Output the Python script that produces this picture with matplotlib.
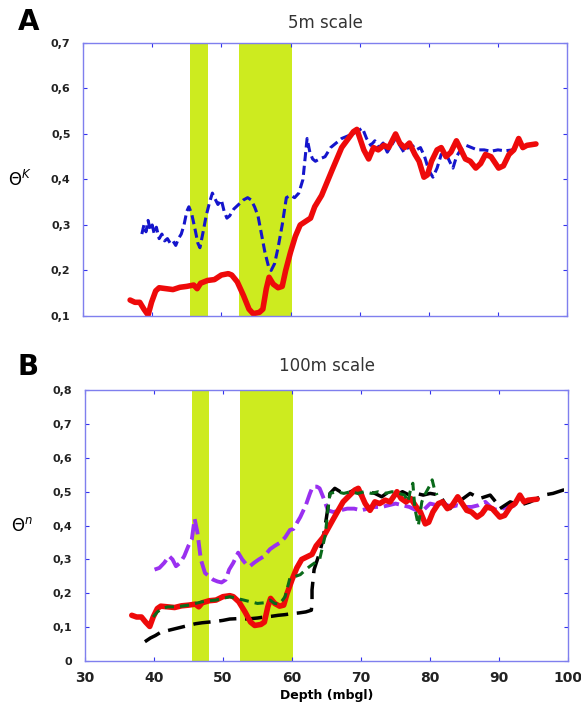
import matplotlib.pyplot as plt
import numpy as np

# red solid curve (same in both panels)
red_depth = [36.8, 37.5, 38.2, 38.8, 39.4, 39.9, 40.5, 41.0, 42, 43, 44, 45, 46, 46.5, 47, 48, 49, 50,
             51, 51.5, 52.3, 53.2, 54, 54.6, 55.5, 56.0, 56.5, 56.9, 57.5, 58.2, 58.8, 59.3, 60.0, 60.7,
             61.4, 62.9, 63.5, 64.5, 66, 67.4, 69.1, 69.6, 70.6, 71.3, 72, 72.7, 73.5, 74.2, 75.2, 75.8,
             76.5, 77.2, 78, 78.6, 79.3, 79.8, 80.4, 81.2, 81.8, 82.5, 83.2, 84, 85.3, 86, 86.8, 87.5,
             88.2, 89, 90.1, 90.8, 91.6, 92.3, 93, 93.6, 94.2, 95.5]
red_theta = [0.135, 0.13, 0.13, 0.115, 0.102, 0.13, 0.155, 0.162, 0.16, 0.158, 0.163, 0.165, 0.168, 0.16,
             0.172, 0.178, 0.18, 0.19, 0.193, 0.19, 0.175, 0.145, 0.115, 0.105, 0.108, 0.115, 0.16, 0.185,
             0.17, 0.162, 0.165, 0.2, 0.24, 0.275, 0.30, 0.315, 0.34, 0.365, 0.42, 0.47, 0.505, 0.51,
             0.465, 0.445, 0.47, 0.465, 0.475, 0.47, 0.50, 0.48, 0.47, 0.48, 0.455, 0.44, 0.405, 0.41,
             0.44, 0.465, 0.47, 0.45, 0.46, 0.485, 0.445, 0.44, 0.425, 0.435, 0.455, 0.45, 0.425, 0.43,
             0.455, 0.465, 0.49, 0.47, 0.475, 0.478]

# blue dashed curve (5m scale)
blue_depth = [38.5, 38.8, 39.1, 39.4, 39.7, 40.0, 40.3, 40.6, 41.0, 41.4, 41.8, 42.2, 42.6, 43.0, 43.4,
              43.8, 44.2, 44.6, 45.0, 45.3, 45.7, 46.2, 46.6, 46.9, 47.3, 47.8, 48.3, 48.7, 49.0, 49.5,
              50.0, 50.4, 50.8, 51.2, 51.8, 52.5, 53.2, 53.8, 54.3, 54.8, 55.3, 55.8, 56.3, 56.8, 57.2,
              57.7, 58.2, 58.8, 59.4, 60.0, 60.6, 61.2, 61.8, 62.4, 62.8, 63.2, 63.6, 64.2, 65.0, 65.8,
              66.6, 67.4, 68.2, 69.0, 69.6, 70.4, 71.0, 71.6, 72.2, 72.8, 73.4, 74.0, 74.6, 75.2, 75.8,
              76.4, 77.0, 77.6, 78.2, 78.8, 79.4, 80.0, 80.6, 81.2, 81.8, 82.4, 83.0, 83.5, 84.0, 84.6,
              85.4, 86.2, 87.0, 88.0, 89.0, 90.0, 91.0, 92.2]
blue_theta = [0.28, 0.30, 0.285, 0.31, 0.29, 0.30, 0.28, 0.295, 0.27, 0.28, 0.265, 0.27, 0.26, 0.265,
              0.255, 0.27, 0.28, 0.30, 0.33, 0.34, 0.325, 0.29, 0.26, 0.25, 0.28, 0.32, 0.35, 0.37, 0.36,
              0.345, 0.355, 0.33, 0.315, 0.32, 0.335, 0.345, 0.355, 0.36, 0.355, 0.34, 0.32, 0.28, 0.24,
              0.21, 0.20, 0.215, 0.25, 0.30, 0.36, 0.365, 0.36, 0.37, 0.40, 0.49, 0.46, 0.445, 0.44,
              0.445, 0.45, 0.47, 0.48, 0.49, 0.495, 0.50, 0.505, 0.513, 0.49, 0.475, 0.485, 0.47, 0.48,
              0.46, 0.475, 0.49, 0.475, 0.46, 0.47, 0.475, 0.465, 0.47, 0.45, 0.42, 0.405, 0.425, 0.455,
              0.46, 0.44, 0.425, 0.45, 0.465, 0.475, 0.47, 0.465, 0.465, 0.462, 0.465, 0.463, 0.465]

# purple dashed curve (100m scale)
purple_depth = [40.1, 40.8, 41.5, 42.2, 42.7, 43.2, 43.8, 44.4, 45.0, 45.5, 45.9, 46.3, 46.8, 47.4, 48.0,
                48.6, 49.2, 49.8, 50.4, 50.9, 51.5, 52.2, 52.8, 53.4, 53.9, 54.5, 55.2, 56.0, 56.8, 57.5,
                58.3, 59.0, 59.7, 60.2, 61.2, 62.0, 62.6, 63.0, 63.6, 64.0, 64.5, 65.2, 66, 67, 68, 69,
                70, 71, 72, 73, 74, 75, 76, 77, 78, 79, 80, 81, 82, 83, 84, 85, 86, 87, 88, 89, 90, 91,
                92.3]
purple_theta = [0.27, 0.275, 0.29, 0.31, 0.30, 0.28, 0.29, 0.31, 0.34, 0.36, 0.42, 0.38, 0.30, 0.26, 0.25,
                0.24, 0.235, 0.232, 0.24, 0.27, 0.29, 0.32, 0.30, 0.285, 0.28, 0.29, 0.30, 0.31, 0.33,
                0.34, 0.35, 0.365, 0.387, 0.39, 0.425, 0.46, 0.495, 0.515, 0.515, 0.51, 0.485, 0.445,
                0.44, 0.445, 0.45, 0.45, 0.445, 0.45, 0.455, 0.455, 0.46, 0.465, 0.46, 0.455, 0.445,
                0.445, 0.465, 0.46, 0.465, 0.455, 0.46, 0.455, 0.455, 0.46, 0.47, 0.45, 0.445, 0.455, 0.46]

# green dashed curve (100m scale)
green_depth = [39.9, 40.5, 41.2, 42, 43, 44, 45, 46, 47, 48, 49, 50, 51, 52, 53, 54, 55, 56, 56.8, 57.5,
               58.2, 59.0, 59.7, 60.5, 61.2, 62.0, 62.6, 63.3, 64.0, 64.8, 65.2, 65.5, 66.5, 67.5, 68.5,
               69.5, 70.5, 71.5, 72.5, 73.5, 74.5, 75.5, 76.3, 76.8, 77.1, 77.5, 77.8, 78.0, 78.3, 78.8,
               79.2, 79.6, 80.0, 80.3, 80.6, 81.0]
green_theta = [0.13, 0.145, 0.155, 0.16, 0.16, 0.162, 0.165, 0.17, 0.175, 0.178, 0.18, 0.185, 0.19, 0.185,
               0.18, 0.175, 0.17, 0.172, 0.18, 0.17, 0.168, 0.19, 0.245, 0.25, 0.255, 0.27, 0.28, 0.29,
               0.30, 0.37, 0.445, 0.495, 0.50, 0.495, 0.50, 0.495, 0.50, 0.495, 0.50, 0.495, 0.50, 0.495,
               0.49, 0.47, 0.50, 0.525, 0.45, 0.43, 0.40, 0.47, 0.49, 0.505, 0.52, 0.535, 0.51, 0.49]

# black dashed curve (100m scale)
black_depth = [38.7, 39.5, 40.2, 41, 42, 43, 44, 45, 46, 47, 48, 49, 50, 51, 52, 53, 54, 55, 56, 57, 58,
               59, 60, 61, 62, 62.8, 62.9, 62.9, 63.2, 64.0, 64.5, 65.0, 65.5, 66.2, 67, 68, 69, 70, 71,
               72, 73, 74, 75, 76, 77, 78, 79, 80, 81.4, 82.3, 82.9, 83.4, 84.0, 84.8, 85.8, 87.2, 88.7,
               89.5, 90.1, 91.6, 93.0, 94.5, 95.5, 96.4, 97.8, 99.3, 99.8]
black_theta = [0.057, 0.068, 0.075, 0.085, 0.09, 0.095, 0.10, 0.105, 0.11, 0.113, 0.115, 0.117, 0.12,
               0.124, 0.125, 0.124, 0.125, 0.127, 0.13, 0.132, 0.135, 0.137, 0.14, 0.142, 0.145, 0.15,
               0.17, 0.21, 0.27, 0.32, 0.36, 0.425, 0.495, 0.51, 0.50, 0.495, 0.505, 0.49, 0.50, 0.495,
               0.485, 0.50, 0.49, 0.50, 0.49, 0.495, 0.49, 0.495, 0.49, 0.46, 0.45, 0.47, 0.47, 0.48,
               0.495, 0.48, 0.49, 0.47, 0.45, 0.47, 0.46, 0.47, 0.48, 0.49, 0.495, 0.505, 0.505]

# shaded depth intervals
bands = [(45.5, 48.0), (52.5, 60.2)]

band_color = '#cdeb1f'
spine_color = '#7f7fee'

fig = plt.figure(figsize=(5.81, 7.11), dpi=100)
axA = fig.add_axes([0.143, 0.5556, 0.833, 0.384])
axB = fig.add_axes([0.146, 0.0703, 0.832, 0.381])


def style(ax, ylim, yticks):
    ax.set_xlim(30, 100)
    ax.set_ylim(*ylim)
    ax.set_xticks(np.arange(30, 101, 10))
    ax.set_yticks(yticks)
    ax.set_yticklabels([('%g' % t).replace('.', ',') for t in yticks],
                       fontsize=8, fontweight='bold', color='#222222')
    ax.tick_params(direction='in', top=True, right=True, length=3, color='#3333ee', width=0.8)
    ax.tick_params(axis='y', pad=9)
    ax.tick_params(axis='x', pad=7)
    for s in ['top', 'bottom', 'left', 'right']:
        ax.spines[s].set_color(spine_color)
        ax.spines[s].set_linewidth(1.0)
    for lo, hi in bands:
        ax.axvspan(lo, hi, color=band_color, lw=0, zorder=0)


# Panel A
style(axA, (0.1, 0.7), [0.1, 0.2, 0.3, 0.4, 0.5, 0.6, 0.7])
axA.set_xticklabels([])
axA.plot(blue_depth, blue_theta, color='#1515cc', lw=2.2, ls=(0, (3, 1.5)))
axA.plot(red_depth, red_theta, color='#ee0a0a', lw=4, solid_capstyle='round')
axA.set_title('5m scale', fontsize=12, color='#333333', pad=11)
axA.set_ylabel(r'$\Theta^{K}$', rotation=0, fontsize=12, labelpad=22, va='center')
fig.text(0.03, 0.958, 'A', fontsize=20, fontweight='bold')

# Panel B
style(axB, (0, 0.8), [0, 0.1, 0.2, 0.3, 0.4, 0.5, 0.6, 0.7, 0.8])
axB.set_xticklabels([str(t) for t in range(30, 101, 10)], fontsize=10, fontweight='bold', color='#222222')
axB.plot(purple_depth, purple_theta, color='#9a30f0', lw=2.8, ls=(0, (4, 1.5)))
axB.plot(black_depth, black_theta, color='black', lw=2.5, ls=(0, (5, 2.5)))
axB.plot(red_depth, red_theta, color='#ee0a0a', lw=4, solid_capstyle='round')
axB.plot(green_depth, green_theta, color='#0a6a1a', lw=2.2, ls=(0, (3, 2)))
axB.set_title('100m scale', fontsize=12, color='#333333', pad=14)
axB.set_ylabel(r'$\Theta^{n}$', rotation=0, fontsize=12, labelpad=22, va='center')
axB.set_xlabel('Depth (mbgl)', fontsize=9, fontweight='bold', labelpad=3)
fig.text(0.03, 0.472, 'B', fontsize=20, fontweight='bold')

fig.savefig('out.png', dpi=100)
